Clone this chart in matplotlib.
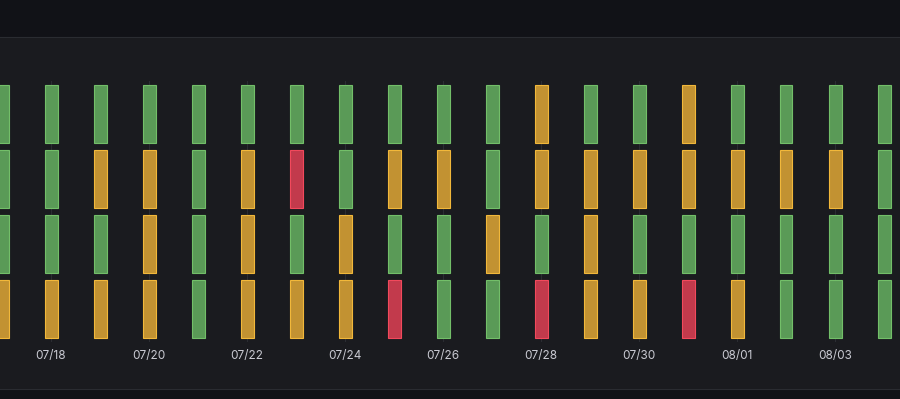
import matplotlib
matplotlib.use("Agg")
import matplotlib.pyplot as plt
from matplotlib.patches import Rectangle

# Dias mostrados (una columna por dia)
days = ["07/17", "07/18", "07/19", "07/20", "07/21", "07/22", "07/23", "07/24",
        "07/25", "07/26", "07/27", "07/28", "07/29", "07/30", "07/31", "08/01",
        "08/02", "08/03", "08/04"]

# Estado por fila: 0 = ok (verde), 1 = aviso (amarillo), 2 = critico (rojo)
row1 = [0, 0, 0, 0, 0, 0, 0, 0, 0, 0, 0, 1, 0, 0, 1, 0, 0, 0, 0]
row2 = [0, 0, 1, 1, 0, 1, 2, 0, 1, 1, 0, 1, 1, 1, 1, 1, 1, 1, 0]
row3 = [0, 0, 0, 1, 0, 1, 0, 1, 0, 0, 1, 0, 1, 0, 0, 0, 0, 0, 0]
row4 = [1, 1, 1, 1, 0, 1, 1, 1, 2, 0, 0, 2, 1, 1, 2, 1, 0, 0, 0]
rows = [row1, row2, row3, row4]

# etiquetas del eje x cada dos dias, empezando en 07/18
tick_idx = list(range(1, len(days), 2))

fill = {0: "#5a9a57", 1: "#c29232", 2: "#c23a4c"}
edge = {0: "#73bf69", 1: "#f2b83a", 2: "#f2495c"}

W, H = 900, 399
fig = plt.figure(figsize=(W / 100, H / 100), dpi=100)
fig.patch.set_facecolor("#111217")

# fondo del panel (por debajo de los ejes)
fig.patches.append(Rectangle((-0.01, (H - 389) / H), 1.02, (389 - 37) / H,
                             transform=fig.transFigure, facecolor="#1a1b1f",
                             edgecolor="#2a2c31", linewidth=0.8, zorder=-10))

# ejes que cubren solo la zona de las barras
ax = fig.add_axes([0, (H - 342) / H, 1, (342 - 81) / H])
ax.set_facecolor("none")
px_day = 49.0
ax.set_xlim(-2 / px_day, (W - 2) / px_day)
ax.set_ylim(4, 0)

bar_w = 13 / px_day
bar_h = 0.89
for r, vals in enumerate(rows):
    for i, v in enumerate(vals):
        ax.bar(i, bar_h, bottom=r + (1 - bar_h) / 2, width=bar_w,
               color=fill[v], edgecolor=edge[v], linewidth=0.8, zorder=3)

ax.set_xticks(tick_idx)
ax.set_xticklabels([days[i] for i in tick_idx], fontfamily=["Inter", "DejaVu Sans"],
                   fontsize=8.5, color="#c9cad2")
ax.tick_params(axis="x", length=0, pad=6)
ax.set_yticks([])
ax.grid(axis="x", color="#2b2d32", linewidth=0.8, zorder=0)
ax.set_axisbelow(True)
for s in ax.spines.values():
    s.set_visible(False)

fig.savefig("out.png", dpi=100, facecolor=fig.get_facecolor())
